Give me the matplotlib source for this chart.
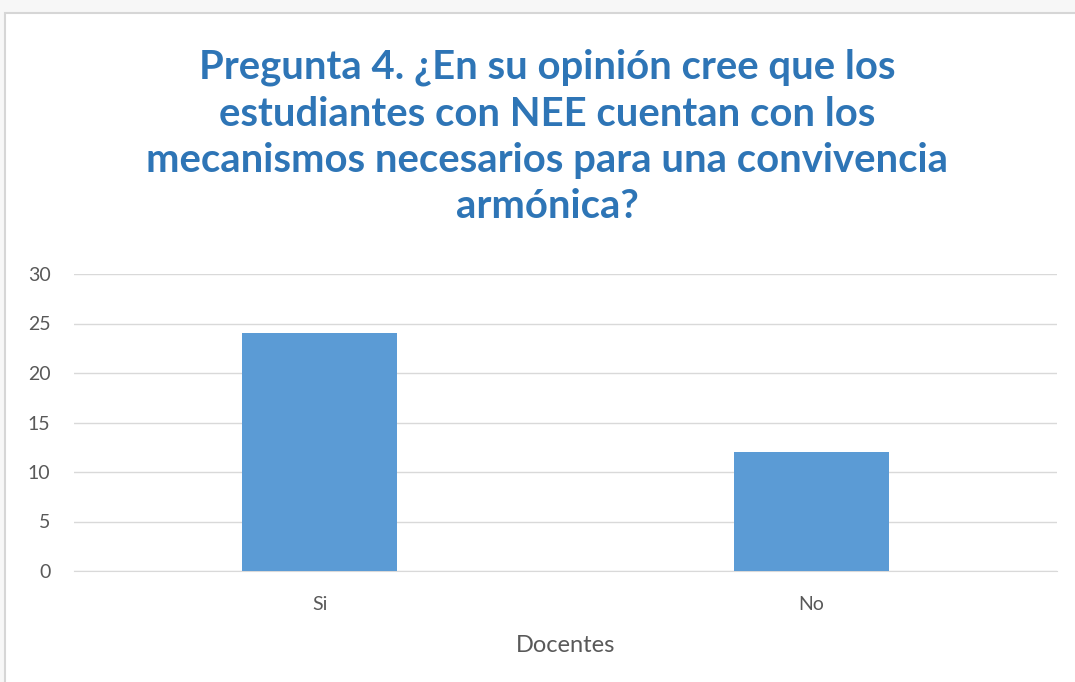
import matplotlib.pyplot as plt
from matplotlib.patches import Rectangle

# datos del grafico
categorias = ["Si", "No"]
valores = [24, 12]
titulo = ("Pregunta 4. ¿En su opinión cree que los\n"
          "estudiantes con NEE cuentan con los\n"
          "mecanismos necesarios para una convivencia\n"
          "armónica?")
etiqueta_x = "Docentes"
ticks_y = [0, 5, 10, 15, 20, 25, 30]

AZUL_BARRA = "#5B9BD5"
AZUL_TITULO = "#2E75B6"
GRIS_TEXTO = "#595959"
GRIS_LINEA = "#D9D9D9"

plt.rcParams['font.family'] = ['Lato', 'DejaVu Sans']

fig = plt.figure(figsize=(10.75, 6.82), dpi=100)
W, H = 1075, 682

# fondo gris claro arriba y marco del grafico
fig.patches.append(Rectangle((0, 0), 1, 1, transform=fig.transFigure,
                             facecolor="#F7F7F7", edgecolor="none", zorder=-3))
fig.patches.append(Rectangle((5 / W, -0.1), 1.1, (H - 13) / H + 0.1,
                             transform=fig.transFigure, facecolor="white",
                             edgecolor="#D6D6D6", linewidth=1.5, zorder=-2))

ax = fig.add_axes([74 / W, (H - 571) / H, 983 / W, 297 / H])
ax.set_facecolor("none")
x = range(len(categorias))
ax.bar(x, valores, width=0.315, color=AZUL_BARRA, zorder=3)

ax.set_xlim(-0.5, 1.5)
ax.set_ylim(0, 30)
ax.set_yticks(ticks_y)
ax.set_xticks(list(x))
ax.set_xticklabels(categorias)
ax.tick_params(axis="both", length=0, labelsize=14, colors=GRIS_TEXTO)
ax.tick_params(axis="y", pad=17)
ax.tick_params(axis="x", pad=18)
ax.grid(axis="y", color=GRIS_LINEA, linewidth=1, zorder=0)
for s in ["top", "right", "left"]:
    ax.spines[s].set_visible(False)
ax.spines["bottom"].set_color(GRIS_LINEA)
ax.set_xlabel(etiqueta_x, fontsize=17, color=GRIS_TEXTO, labelpad=16)

fig.text(547 / W, 1 - 137 / H, titulo, ha="center", va="center",
         fontsize=28.8, fontweight="bold", color=AZUL_TITULO, linespacing=1.31)

fig.savefig("out.png", dpi=100)
